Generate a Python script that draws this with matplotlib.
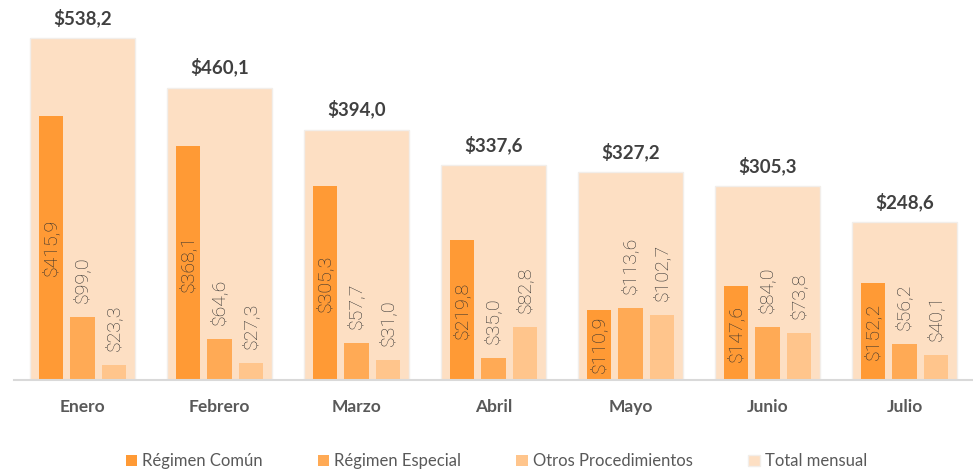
import numpy as np
import matplotlib
matplotlib.use("Agg")
import matplotlib.pyplot as plt

meses = ["Enero", "Febrero", "Marzo", "Abril", "Mayo", "Junio", "Julio"]
regimen_comun = [415.9, 368.1, 305.3, 219.8, 110.9, 147.6, 152.2]
regimen_especial = [99.0, 64.6, 57.7, 35.0, 113.6, 84.0, 56.2]
otros_proc = [23.3, 27.3, 31.0, 82.8, 102.7, 73.8, 40.1]
total_mensual = [538.2, 460.1, 394.0, 337.6, 327.2, 305.3, 248.6]

series_names = ["Régimen Común", "Régimen Especial", "Otros Procedimientos", "Total mensual"]
colors = ["#FF9A35", "#FFAA55", "#FFC58C", "#FDDFC3"]


def fmt(v):
    return "$" + f"{v:.1f}".replace(".", ",")


def main():
    plt.rcParams["font.family"] = ["Lato", "DejaVu Sans"]
    fig = plt.figure(figsize=(9.73, 4.74), dpi=100)
    ax = fig.add_axes([14 / 973, 94 / 474, 959 / 973, 380 / 474])

    x = np.arange(len(meses))
    ax.bar(x, total_mensual, width=0.766, color=colors[3], edgecolor="#F2EEEA",
           linewidth=1, label=series_names[3], zorder=1)

    w = 0.178
    off = 0.232
    ax.bar(x - off, regimen_comun, width=w, color=colors[0], label=series_names[0], zorder=2)
    ax.bar(x, regimen_especial, width=w, color=colors[1], label=series_names[1], zorder=2)
    ax.bar(x + off, otros_proc, width=w, color=colors[2], label=series_names[2], zorder=2)

    lab_kw = dict(rotation=90, fontsize=14, color="#2E2E2E", fontweight="light",
                  family=["Roboto", "DejaVu Sans"], zorder=3)
    for xi, v in zip(x, regimen_comun):
        ax.text(xi - off, v / 2, fmt(v), ha="center", va="center", **lab_kw)
    for xi, v in zip(x, regimen_especial):
        ax.annotate(fmt(v), (xi, v), xytext=(0, 10), textcoords="offset points",
                    ha="center", va="bottom", **lab_kw)
    for xi, v in zip(x, otros_proc):
        ax.annotate(fmt(v), (xi + off, v), xytext=(0, 10), textcoords="offset points",
                    ha="center", va="bottom", **lab_kw)
    for xi, v in zip(x, total_mensual):
        ax.annotate(fmt(v), (xi, v), xytext=(0, 8), textcoords="offset points",
                    ha="center", va="bottom", fontsize=13.5, fontweight="bold",
                    color="#404040")

    ax.set_xlim(-0.5, 6.5)
    ax.set_ylim(0, 598)
    ax.set_yticks([])
    ax.set_xticks(x)
    ax.set_xticklabels(meses, fontsize=12.5, fontweight="bold", color="#595959")
    ax.tick_params(axis="x", length=0, pad=14)
    for s in ["top", "right", "left"]:
        ax.spines[s].set_visible(False)
    ax.spines["bottom"].set_color("#D9D9D9")
    ax.spines["bottom"].set_linewidth(1.5)

    handles, labels = ax.get_legend_handles_labels()
    order = [1, 2, 3, 0]
    leg = fig.legend([handles[i] for i in order], [labels[i] for i in order],
                     loc="lower center", bbox_to_anchor=(0.51, -0.022), ncol=4,
                     frameon=False, fontsize=12, handlelength=0.7, handleheight=0.7,
                     handletextpad=0.3, columnspacing=3.3)
    for t in leg.get_texts():
        t.set_color("#595959")

    fig.savefig("out.png", dpi=100)


if __name__ == "__main__":
    main()
